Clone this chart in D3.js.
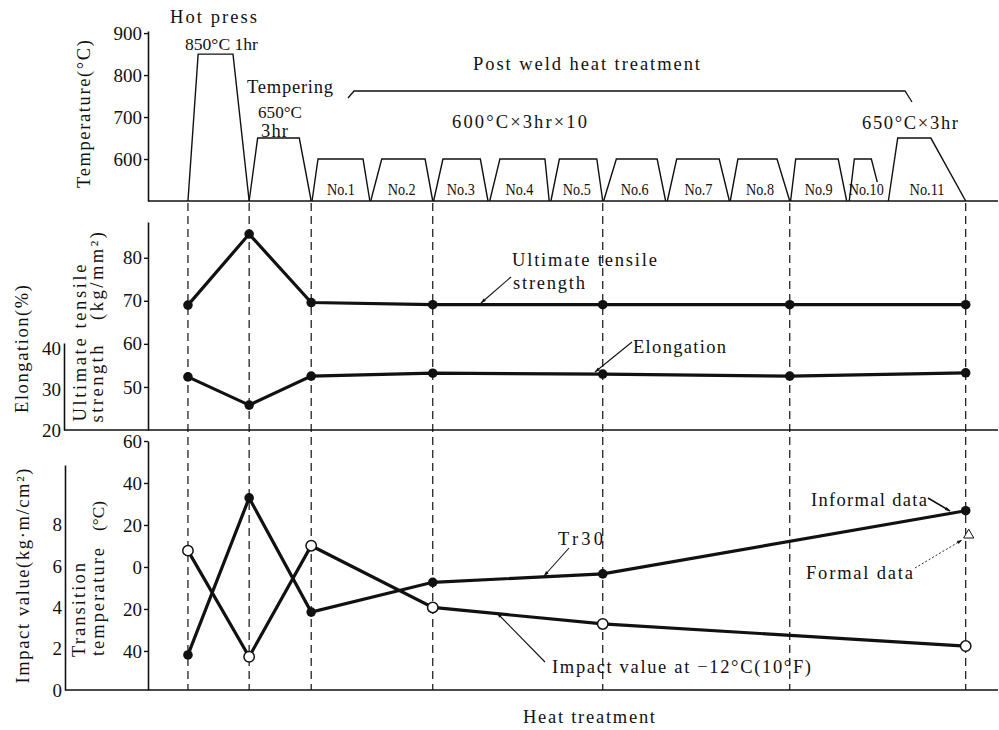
<!DOCTYPE html>
<html>
<head>
<meta charset="utf-8">
<script src="https://cdn.jsdelivr.net/npm/d3@7"></script>
<style>
  body { margin: 0; background: #fff; }
  svg { display: block; }
  text { font-family: "Liberation Serif", "DejaVu Serif", serif; fill: #111; }
</style>
</head>
<body>
<div id="chart"></div>
<script>
// ---- Heat-treatment schedule (schematic process time, 0–100) ----
const cycleLabels = ["", "", "No.1", "No.2", "No.3", "No.4", "No.5", "No.6", "No.7", "No.8", "No.9", "No.10", "No.11"];
const cycleStart  = [4.7, 11.9, 19.3, 26.2, 33.6, 40.2, 47.4, 53.6, 61.1, 68.5, 75.6, 82.5, 87.1];
const cycleRise   = [5.9, 12.9, 20.0, 27.5, 34.7, 41.4, 48.4, 55.1, 62.2, 69.4, 76.2, 83.1, 88.2];
const cycleFall   = [10.0, 17.8, 25.3, 32.6, 39.1, 46.7, 52.8, 59.9, 67.2, 74.0, 81.2, 85.1, 92.1];
const cycleEnd    = [11.9, 19.2, 26.1, 33.5, 40.0, 47.2, 53.5, 60.9, 68.4, 75.5, 82.2, 85.8, 96.2];
const holdTemp    = [850, 650, 600, 600, 600, 600, 600, 600, 600, 600, 600, 600, 650];
const endTemp     = [500, 500, 500, 500, 500, 500, 500, 500, 500, 500, 500, 545, 500];

// ---- Test points (after each stage) ----
const stageTime    = [4.7, 11.9, 19.2, 33.5, 53.5, 75.5, 96.2];
const utsValues    = [69.0, 85.5, 69.6, 69.1, 69.1, 69.1, 69.1];     // kg/mm2
const elongValues  = [33.0, 26.1, 33.2, 33.9, 33.7, 33.2, 34.0];     // %
const tr30Values   = [-41.9, 32.9, -21.5, -7.3, -3.3, null, 26.8];   // degC
const impactValues = [6.75, 1.61, 6.99, 4.0, 3.2, null, 2.13];       // kg-m/cm2
const formalTr30   = 15.2;                                          // degC, last stage

// ---- Tick values ----
const tempTicks   = [600, 700, 800, 900];
const utsTicks    = [50, 60, 70, 80];
const elongTicks  = [20, 30, 40];
const trTicks     = [60, 40, 20, 0, -20, -40];
const impactTicks = [0, 2, 4, 6, 8];

const W = 999, H = 730;
const svg = d3.select("#chart").append("svg").attr("width", W).attr("height", H);

const x      = d3.scaleLinear().domain([0, 100]).range([148, 998]);
const yTemp  = d3.scaleLinear().domain([500, 905]).range([201, 31]);
const yUTS   = d3.scaleLinear().domain([40, 88.3]).range([430, 222]);
const yEl    = d3.scaleLinear().domain([20, 41.3]).range([430, 343]);
const yTr    = d3.scaleLinear().domain([-58.6, 60]).range([690, 441]);
const yImp   = d3.scaleLinear().domain([0, 10.9]).range([690, 465]);

const ink = "#111";
const FS = 18.5;

svg.append("defs").append("marker")
  .attr("id", "arr").attr("viewBox", "0 0 10 10").attr("refX", 10).attr("refY", 5)
  .attr("markerWidth", 8).attr("markerHeight", 5).attr("orient", "auto")
  .attr("markerUnits", "userSpaceOnUse")
  .append("path").attr("d", "M0,1.5L10,5L0,8.5Z").attr("fill", ink);

// Fit a text to a given width: shrink the font if needed, otherwise widen spacing.
function fit(t, len, size) {
  if (!len) return t;
  const w = t.node().getComputedTextLength();
  if (w > len) t.attr("font-size", size * len / w);
  else t.attr("textLength", len).attr("lengthAdjust", "spacing");
  return t;
}
function label(s, px, py, len, size = FS) {
  const t = svg.append("text").attr("x", px).attr("y", py).text(s).attr("font-size", size);
  return fit(t, len, size);
}
function vlabel(s, bx, cy, len, size = FS) {
  const t = svg.append("text").attr("transform", `translate(${bx},${cy}) rotate(-90)`)
    .attr("text-anchor", "middle").attr("font-size", size).text(s);
  return fit(t, len, size);
}
function styleAxis(g) {
  g.selectAll("path.domain").attr("stroke", ink).attr("stroke-width", 1.6);
  g.selectAll(".tick line").attr("stroke", ink).attr("stroke-width", 1.4);
  g.selectAll(".tick text").attr("font-family", '"Liberation Serif", serif')
    .attr("font-size", 19).attr("fill", ink);
}

// ---- Dashed guide lines at the test stages ----
svg.append("g").selectAll("line").data(stageTime).join("line")
  .attr("x1", d => x(d)).attr("x2", d => x(d))
  .attr("y1", yTemp(500) + 2).attr("y2", yTr(-58.6))
  .attr("stroke", ink).attr("stroke-width", 1.2).attr("stroke-dasharray", "8,5");

// ---- Top panel: temperature schedule ----
svg.append("g").attr("transform", `translate(${x(0)},0)`)
  .call(d3.axisLeft(yTemp).tickValues(tempTicks).tickSize(4).tickSizeOuter(0).tickPadding(2))
  .call(styleAxis);
svg.append("line").attr("x1", x(0)).attr("x2", x(100)).attr("y1", yTemp(500)).attr("y2", yTemp(500))
  .attr("stroke", ink).attr("stroke-width", 1.6);

const cycles = cycleLabels.map((name, i) => ({
  name, pts: [[cycleStart[i], 500], [cycleRise[i], holdTemp[i]], [cycleFall[i], holdTemp[i]], [cycleEnd[i], endTemp[i]]]
}));
const profile = d3.line().x(d => x(d[0])).y(d => yTemp(d[1]));
svg.append("g").selectAll("path").data(cycles).join("path")
  .attr("d", d => profile(d.pts)).attr("fill", "none")
  .attr("stroke", ink).attr("stroke-width", 1.4);
svg.append("g").selectAll("text").data(cycles.filter(c => c.name)).join("text")
  .attr("x", d => x((d.pts[0][0] + d.pts[3][0]) / 2) + (d.name === "No.10" ? 3 : 0))
  .attr("y", 195).attr("text-anchor", "middle").attr("font-size", 17)
  .attr("textLength", d => d.name.length > 4 ? 35 : 28).attr("lengthAdjust", "spacingAndGlyphs")
  .text(d => d.name);

label("Hot press", 170, 23, 87);
label("850°C 1hr", 185, 50, 73);
label("Tempering", 247, 93, 86);
label("650°C", 258, 118, 44);
label("3hr", 261, 137, 27);
label("Post weld heat treatment", 473, 70, 227);
label("600°C×3hr×10", 452, 128, 135);
label("650°C×3hr", 862, 129, 96);
svg.append("path").attr("d", "M348,98L354,91L905,91L912,102")
  .attr("fill", "none").attr("stroke", ink).attr("stroke-width", 1.3);
vlabel("Temperature(°C)", 90, 114, 148);

// ---- Middle panel: tensile properties ----
svg.append("g").attr("transform", `translate(${x(0)},0)`)
  .call(d3.axisLeft(yUTS).tickValues(utsTicks).tickSize(4).tickSizeOuter(0).tickPadding(2))
  .call(styleAxis);
svg.append("g").attr("transform", "translate(64,0)")
  .call(d3.axisLeft(yEl).tickValues(elongTicks).tickSize(0).tickPadding(3))
  .call(styleAxis);
svg.append("line").attr("x1", 64).attr("x2", x(100)).attr("y1", yUTS(40)).attr("y2", yUTS(40))
  .attr("stroke", ink).attr("stroke-width", 1.6);

function series(values, yScale, filled) {
  const pts = values.map((v, i) => [stageTime[i], v]).filter(d => d[1] !== null);
  svg.append("path").datum(pts)
    .attr("d", d3.line().x(d => x(d[0])).y(d => yScale(d[1])))
    .attr("fill", "none").attr("stroke", ink).attr("stroke-width", 3.2);
  svg.append("g").selectAll("circle").data(pts).join("circle")
    .attr("cx", d => x(d[0])).attr("cy", d => yScale(d[1]))
    .attr("r", filled ? 4.8 : 5.2)
    .attr("fill", filled ? ink : "#fff").attr("stroke", ink).attr("stroke-width", filled ? 0 : 1.5);
}
series(utsValues, yUTS, true);
series(elongValues, yEl, true);

label("Ultimate tensile", 512, 266, 145);
label("strength", 513, 289, 72);
label("Elongation", 633, 353, 93);
function leader(x1, y1, x2, y2, w = 1.1, dash = null) {
  const l = svg.append("line").attr("x1", x1).attr("y1", y1).attr("x2", x2).attr("y2", y2)
    .attr("stroke", ink).attr("stroke-width", w).attr("marker-end", "url(#arr)");
  if (dash) l.attr("stroke-dasharray", dash);
}
leader(511, 277, 481, 303);
leader(632, 342, 595, 372);

vlabel("Elongation(%)", 28, 349, 128);
vlabel("Ultimate tensile", 86, 343, 157);
vlabel("strength", 103, 384, 77);
vlabel("(kg/mm²)", 103, 276, 88);

// ---- Bottom panel: impact value and transition temperature ----
svg.append("g").attr("transform", `translate(${x(0)},0)`)
  .call(d3.axisLeft(yTr).tickValues(trTicks).tickFormat(d => Math.abs(d))
    .tickSize(4).tickSizeOuter(0).tickPadding(2))
  .call(styleAxis);
svg.append("g").attr("transform", "translate(65,0)")
  .call(d3.axisLeft(yImp).tickValues(impactTicks).tickSize(0).tickPadding(3))
  .call(styleAxis);
svg.append("line").attr("x1", 65).attr("x2", x(100)).attr("y1", yTr(-58.6)).attr("y2", yTr(-58.6))
  .attr("stroke", ink).attr("stroke-width", 1.6);

series(tr30Values, yTr, true);
series(impactValues, yImp, false);

// formal-data mark at the last stage
svg.append("path")
  .attr("transform", `translate(${x(stageTime[6]) + 3},${yTr(formalTr30)})`)
  .attr("d", d3.symbol(d3.symbolTriangle, 45)())
  .attr("fill", "#fff").attr("stroke", ink).attr("stroke-width", 1);

label("Tr30", 558, 545, 45);
leader(569, 548, 544, 576);
label("Impact value at −12°C(10°F)", 552, 673, 259);
leader(545, 662, 497, 613);
label("Informal data", 811, 506, 116);
leader(928, 498, 950, 511, 1.6);
label("Formal data", 806, 579, 107);
leader(915, 568, 962, 540, 0.9, "2,2");

vlabel("Impact value(kg·m/cm²)", 29, 576, 215);
vlabel("Transition", 85, 610, 94);
vlabel("temperature", 104, 602, 108);
vlabel("(°C)", 104, 516, 30);

label("Heat treatment", 523, 723, 132);
</script>
</body>
</html>
